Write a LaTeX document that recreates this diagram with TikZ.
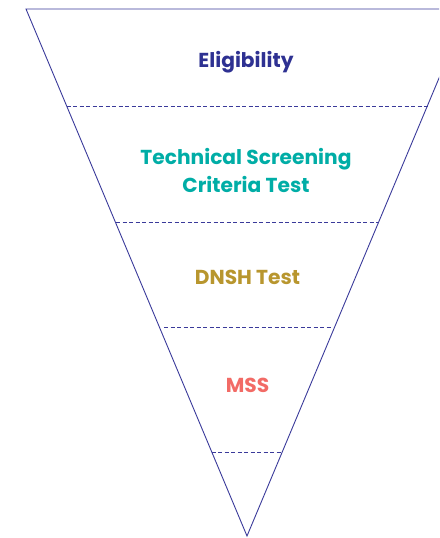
\documentclass[tikz,border=0pt]{standalone}
\usepackage{fontspec}
\setmainfont{Poppins}
\definecolor{navy}{HTML}{2E3192}
\definecolor{teal}{HTML}{00ADA6}
\definecolor{gold}{HTML}{B8962E}
\definecolor{salmon}{HTML}{F26B66}
\definecolor{linec}{HTML}{3A3A9A}
\tikzset{
  edge/.style={draw=linec, line width=0.9pt},
  sep/.style={draw=linec, line width=0.7pt, dash pattern=on 4pt off 2.5pt},
  lbl/.style={font=\bfseries\fontsize{20.2}{28}\selectfont, align=center, inner sep=0pt}
}
\begin{document}
\begin{tikzpicture}[x=1pt,y=-1pt]
\useasboundingbox (0,0) rectangle (439,538);
\begin{scope}
\clip (0,0) rectangle (439,538);
\coordinate (tl) at (26,9);
\coordinate (tr) at (468,9);
\coordinate (bot) at (247,536);
\draw[edge, line join=miter] (tr) -- (tl) -- (bot) -- (tr);
\end{scope}
\coordinate (s1a) at (66.7,106); \coordinate (s1b) at (428,106);
\coordinate (s2a) at (116,222); \coordinate (s2b) at (379,222);
\coordinate (s3a) at (164,327); \coordinate (s3b) at (332,327);
\coordinate (s4a) at (211.5,452); \coordinate (s4b) at (282.5,452);
\draw[sep] (s1a) -- (s1b);
\draw[sep] (s2a) -- (s2b);
\draw[sep] (s3a) -- (s3b);
\draw[sep] (s4a) -- (s4b);
\node[lbl, text=navy] (elig) at (246,62.5) {Eligibility};
\node[lbl, text=teal] (tsc) at (246,170.5) {Technical Screening\\Criteria Test};
\node[lbl, text=gold] (dnsh) at (247.5,277.5) {DNSH Test};
\node[lbl, text=salmon] (mss) at (247.5,385.5) {MSS};
\end{tikzpicture}
\end{document}
